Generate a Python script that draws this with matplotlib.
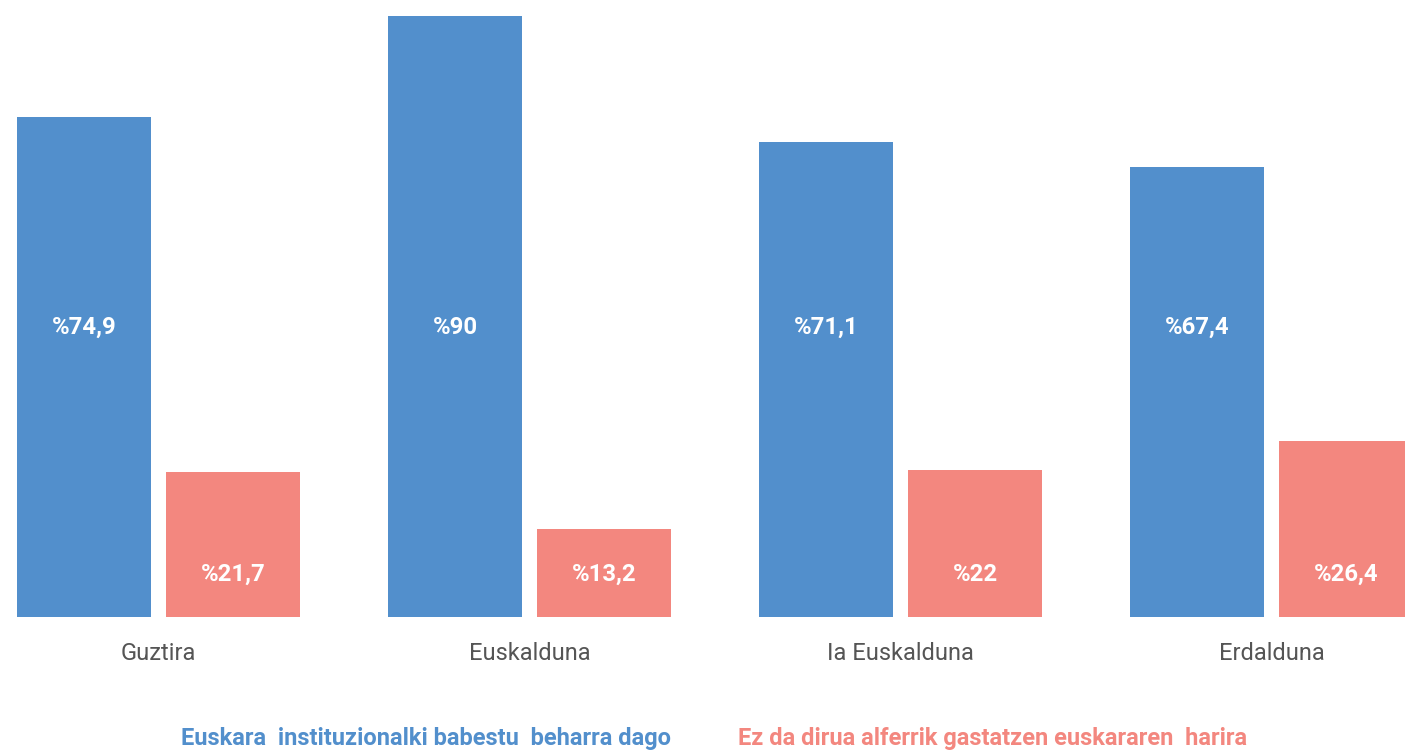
import matplotlib.pyplot as plt
import numpy as np

plt.rcParams['font.family'] = ['Roboto', 'DejaVu Sans']

# data
categories = ['Guztira', 'Euskalduna', 'Ia Euskalduna', 'Erdalduna']
babestu = [74.9, 90, 71.1, 67.4]
alferrik = [21.7, 13.2, 22, 26.4]
babestu_labels = ['%74,9', '%90', '%71,1', '%67,4']
alferrik_labels = ['%21,7', '%13,2', '%22', '%26,4']
series_names = ['Euskara  instituzionalki babestu  beharra dago',
                'Ez da dirua alferrik gastatzen euskararen  harira']

blue = '#528fcc'
red = '#f3877f'

fig = plt.figure(figsize=(14.05, 7.51), dpi=100)
ax = fig.add_axes([0, 1 - 617 / 751, 1, 601 / 751])

x = np.arange(len(categories))
off = 0.2008
w = 0.361
ax.bar(x - off, babestu, width=w, color=blue)
ax.bar(x + off, alferrik, width=w, color=red)

# value labels sit at fixed heights
for i in range(len(categories)):
    ax.text(x[i] - off, 43.4, babestu_labels[i], color='white', fontsize=17.2,
            fontweight='bold', ha='center', va='center')
    ax.text(x[i] + off, 6.4, alferrik_labels[i], color='white', fontsize=17.2,
            fontweight='bold', ha='center', va='center')
    ax.text(x[i], -5.5, categories[i], color='#555555', fontsize=17,
            ha='center', va='center', clip_on=False)

ax.set_xlim(-0.4272, 3.3598)
ax.set_ylim(0, 90)
ax.axis('off')

# legend as coloured text
fig.text(426.5 / 1405, 1 - 738 / 751, series_names[0], color=blue, fontsize=17,
         fontweight='bold', ha='center', va='center')
fig.text(992.5 / 1405, 1 - 738 / 751, series_names[1], color=red, fontsize=17,
         fontweight='bold', ha='center', va='center')

fig.savefig('out.png', dpi=100)
